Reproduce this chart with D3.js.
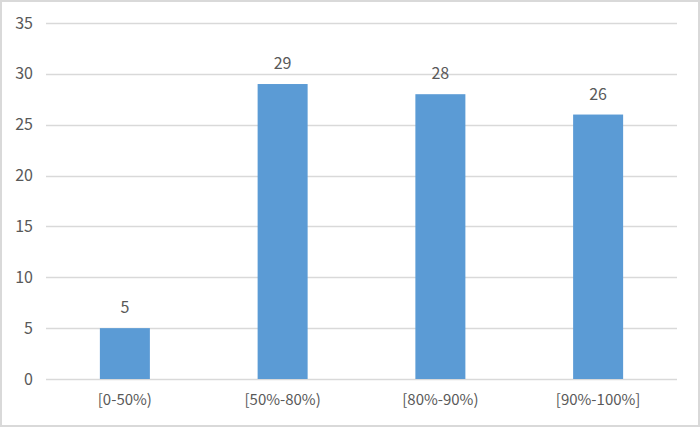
<!DOCTYPE html>
<html><head><meta charset="utf-8">
<script src="https://cdn.jsdelivr.net/npm/d3@7"></script>
<style>
html,body{margin:0;padding:0;background:#fff;}
svg text{font-family:"Noto Sans CJK SC","Liberation Sans",sans-serif;fill:#595959;}
</style></head>
<body><svg id="c" width="700" height="427"></svg>
<script>
const categories = ["[0-50%)", "[50%-80%)", "[80%-90%)", "[90%-100%]"];
const values = [5, 29, 28, 26];
const yTicks = [0, 5, 10, 15, 20, 25, 30, 35];

const W = 700, H = 427;
const m = {left: 46, right: 23, top: 23, bottom: 48};
const svg = d3.select("#c");
svg.append("rect").attr("x", 1).attr("y", 1).attr("width", W - 2).attr("height", H - 2)
  .attr("fill", "#fff").attr("stroke", "#d9d9d9").attr("stroke-width", 2);

const x = d3.scaleBand().domain(categories).range([m.left, W - m.right])
  .paddingInner(0.683).paddingOuter(0.3415);
const y = d3.scaleLinear().domain([0, 35]).range([H - m.bottom, m.top]);

const g = svg.append("g");
g.selectAll("line.grid").data(yTicks).enter().append("line")
  .attr("x1", m.left).attr("x2", W - m.right)
  .attr("y1", d => Math.round(y(d)) + 0.5).attr("y2", d => Math.round(y(d)) + 0.5)
  .attr("stroke", "#d9d9d9").attr("stroke-width", 1.3);

g.selectAll("text.yt").data(yTicks).enter().append("text")
  .attr("x", 33).attr("y", d => y(d)).attr("dy", "0.35em")
  .attr("text-anchor", "end").attr("font-size", 16).text(d => d);

g.selectAll("rect.bar").data(values).enter().append("rect")
  .attr("x", (d, i) => x(categories[i])).attr("width", x.bandwidth())
  .attr("y", d => y(d)).attr("height", d => y(0) - y(d))
  .attr("fill", "#5b9bd5");

g.selectAll("text.vl").data(values).enter().append("text")
  .attr("x", (d, i) => x(categories[i]) + x.bandwidth() / 2)
  .attr("y", d => y(d) - 15)
  .attr("text-anchor", "middle").attr("font-size", 16).text(d => d);

g.selectAll("text.xl").data(categories).enter().append("text")
  .attr("x", d => x(d) + x.bandwidth() / 2).attr("y", y(0) + 21).attr("dy", "0.35em")
  .attr("text-anchor", "middle").attr("font-size", 15).text(d => d);
</script></body></html>
